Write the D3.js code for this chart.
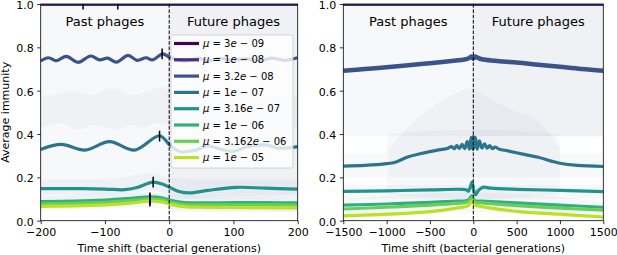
<!DOCTYPE html>
<html><head><meta charset="utf-8">
<script src="https://cdn.jsdelivr.net/npm/d3@7"></script>
<style>body{margin:0;background:#fff}svg{display:block;font-family:"DejaVu Sans",sans-serif}</style>
</head><body><svg id="c" width="617" height="255"></svg>
<script>
// ---------- DATA ----------
const muLabels = ["3e-09","1e-08","3.2e-08","1e-07","3.16e-07","1e-06","3.162e-06","1e-05"];
const leftTicks = [-200,-100,0,100,200];
const rightTicks = [-1500,-1000,-500,0,500,1000,1500];
const yTicks = [0,0.2,0.4,0.6,0.8,1.0];

// left panel series [time shift, immunity]
const L_3e09 = [[-200,0.999],[200,0.999]];
const L_1e08 = [[-200,0.998],[200,0.998]];
const L_32e08 = [[-200,0.737],[-188,0.752],[-176,0.738],[-160,0.758],[-142,0.731],[-122,0.76],[-108,0.742],[-96,0.75],[-82,0.732],[-64,0.763],[-50,0.74],[-36,0.752],[-26,0.742],[-10,0.77],[0,0.755],[10,0.745],[25,0.735],[45,0.75],[60,0.738],[80,0.748],[100,0.74],[120,0.748],[140,0.738],[160,0.75],[180,0.74],[200,0.752]];
const L_1e07 = [[-200,0.329],[-168,0.352],[-131,0.326],[-93,0.365],[-54,0.326],[-15,0.392],[1,0.349],[17,0.318],[40,0.325],[60,0.345],[80,0.33],[100,0.32],[120,0.34],[150,0.35],[170,0.335],[200,0.342]];
const L_316e07 = [[-200,0.148],[-150,0.148],[-100,0.146],[-70,0.143],[-50,0.153],[-25,0.178],[-10,0.168],[0,0.155],[15,0.135],[32,0.128],[60,0.14],[105,0.154],[150,0.15],[200,0.146]];
const L_1e06 = [[-200,0.088],[-150,0.09],[-100,0.095],[-60,0.103],[-30,0.11],[-10,0.105],[0,0.095],[20,0.085],[50,0.082],[100,0.083],[150,0.083],[200,0.082]];
const L_3162e06 = [[-200,0.078],[-150,0.08],[-100,0.085],[-60,0.093],[-30,0.1],[-10,0.096],[0,0.087],[20,0.076],[50,0.073],[100,0.073],[150,0.073],[200,0.072]];
const L_1e05 = [[-200,0.066],[-150,0.068],[-100,0.073],[-60,0.081],[-30,0.09],[-10,0.086],[0,0.078],[20,0.066],[50,0.062],[100,0.061],[150,0.06],[200,0.059]];
// peak markers (left panel) per series: time, immunity
const peakT = [-134,-80,-11,-15,-25,-30,-30,-30];
const peakV = [1.0,1.0,0.77,0.39,0.178,0.105,0.097,0.09];

// right panel series
const R_3e09 = [[-1500,0.999],[1500,0.999]];
const R_1e08 = [[-1500,0.998],[1500,0.998]];
const R_32e08 = [[-1500,0.692],[-1250,0.7],[-1000,0.708],[-750,0.717],[-500,0.727],[-250,0.737],[-100,0.744],[-50,0.75],[-20,0.758],[0,0.748],[20,0.758],[50,0.752],[100,0.745],[250,0.738],[500,0.73],[750,0.72],[1000,0.71],[1250,0.7],[1500,0.692]];
const R_1e07 = [[-1500,0.252],[-1250,0.255],[-1000,0.263],[-900,0.27],[-750,0.295],[-600,0.31],[-400,0.327],[-300,0.333],[-250,0.342],[-220,0.332],[-190,0.346],[-160,0.334],[-130,0.352],[-100,0.333],[-70,0.365],[-45,0.33],[-25,0.385],[-8,0.33],[0,0.39],[10,0.335],[25,0.385],[45,0.33],[70,0.368],[100,0.335],[130,0.355],[160,0.335],[190,0.347],[220,0.332],[250,0.34],[300,0.33],[400,0.322],[600,0.305],[750,0.293],[900,0.275],[1000,0.265],[1200,0.255],[1500,0.25]];
const R_316e07 = [[-1500,0.135],[-1000,0.138],[-500,0.142],[-150,0.145],[-80,0.143],[-55,0.136],[-15,0.178],[0,0.15],[25,0.12],[60,0.14],[110,0.154],[200,0.15],[500,0.145],[1000,0.14],[1500,0.134]];
const R_1e06 = [[-1500,0.072],[-1000,0.077],[-500,0.085],[-200,0.09],[-60,0.095],[-15,0.115],[0,0.1],[20,0.092],[100,0.09],[500,0.082],[1000,0.072],[1500,0.062]];
const R_3162e06 = [[-1500,0.054],[-1000,0.062],[-500,0.072],[-200,0.08],[-60,0.087],[-15,0.105],[0,0.092],[20,0.085],[100,0.082],[500,0.07],[1000,0.058],[1500,0.049]];
const R_1e05 = [[-1500,0.022],[-1000,0.03],[-500,0.042],[-200,0.058],[-60,0.07],[-15,0.09],[0,0.082],[20,0.072],[100,0.065],[500,0.043],[1000,0.03],[1500,0.017]];

// spread bands [time, low, high]
const LB_32e08 = [[-200,0.43,1.05],[-170,0.45,1.05],[-140,0.42,1.05],[-120,0.44,1.05],[-100,0.43,1.05],[-80,0.42,1.05],[-60,0.44,1.05],[-40,0.43,1.05],[-20,0.45,1.05],[0,0.44,1.05],[50,0.43,1.05],[100,0.44,1.05],[150,0.42,1.05],[200,0.43,1.05]];
const LB_1e07 = [[-200,0.1,0.57],[-180,0.1,0.58],[-150,0.1,0.6],[-120,0.1,0.58],[-90,0.1,0.61],[-60,0.1,0.58],[-30,0.1,0.6],[-10,0.1,0.62],[0,0.1,0.6],[50,0.1,0.58],[100,0.1,0.6],[150,0.1,0.58],[200,0.1,0.57]];
const LB_316e07 = [[-200,0.12,0.19],[-100,0.12,0.19],[-25,0.14,0.22],[0,0.12,0.2],[50,0.11,0.19],[200,0.12,0.19]];
const LB_green = [[-200,0.045,0.11],[-30,0.06,0.13],[0,0.055,0.12],[200,0.04,0.1]];
const LB_future = [[0,0.04,1.05],[200,0.04,1.05]];

const RB_32e08 = [[-1500,0.39,1.05],[1500,0.39,1.05]];
const RB_future = [[0,0.39,1.05],[1500,0.39,1.05]];
const RB_1e07 = [[-1500,0.2,0.31],[-1010,0.2,0.31],[-980,0.12,0.4],[0,0.1,0.42],[980,0.12,0.4],[1010,0.2,0.31],[1500,0.2,0.31]];
const RB_1e07b = [[-980,0.2,0.33],[-650,0.2,0.47],[-380,0.2,0.55],[0,0.2,0.61],[40,0.2,0.6],[460,0.2,0.51],[730,0.2,0.465],[1000,0.2,0.34]];
const RB_316e07 = [[-1500,0.1,0.165],[1500,0.1,0.165]];
const RB_green = [[-1500,0.0,0.1],[0,0.04,0.13],[1500,0.0,0.09]];

// ---------- DRAW ----------
const svg = d3.select("#c");
const colors = muLabels.map((d,i)=>d3.interpolateViridis(i*0.9/7));
const y = d3.scaleLinear().domain([0,1]).range([220.7,4]);

function panel(id, x0, x1, dom, ticks, series, bands, peaks, showYLabel, legend){
  const x = d3.scaleLinear().domain(dom).range([x0,x1]);
  const g = svg.append("g");
  g.append("clipPath").attr("id",id).append("rect").attr("x",x0).attr("y",4).attr("width",x1-x0).attr("height",216.7);
  const pg = g.append("g").attr("clip-path",`url(#${id})`);
  const area = d3.area().x(d=>x(d[0])).y0(d=>y(d[1])).y1(d=>y(d[2])).curve(d3.curveMonotoneX);
  bands.forEach(b=>pg.append("path").attr("d",area(b)).attr("fill","rgb(110,125,165)").attr("fill-opacity",0.055));
  const line = d3.line().x(d=>x(d[0])).y(d=>y(d[1])).curve(d3.curveCatmullRom.alpha(0.5));
  series.forEach((s,i)=>pg.append("path").attr("d",line(s.data)).attr("fill","none")
     .attr("stroke",colors[i]).attr("stroke-width",s.w||3.2));
  if(peaks){
    peaks.t.forEach((t,i)=>pg.append("line").attr("x1",x(t)).attr("x2",x(t))
      .attr("y1",y(peaks.v[i]-0.025)).attr("y2",y(peaks.v[i]+0.025)).attr("stroke","#000").attr("stroke-width",1.5));
  }
  pg.append("line").attr("x1",x(0)).attr("x2",x(0)).attr("y1",4).attr("y2",220.7)
    .attr("stroke","#000").attr("stroke-width",1).attr("stroke-dasharray","3.7,1.6");
  g.append("text").attr("x",(x0+x(0))/2).attr("y",26).attr("text-anchor","middle").attr("font-size",13).text("Past phages");
  g.append("text").attr("x",(x(0)+x1)/2).attr("y",26).attr("text-anchor","middle").attr("font-size",13).text("Future phages");
  // axes
  const xa = g.append("g").attr("transform","translate(0,220.7)")
    .call(d3.axisBottom(x).tickValues(ticks).tickSize(3.5).tickPadding(4.5).tickFormat(d=>d<0?"\u2212"+(-d):d));
  const ya = g.append("g").attr("transform",`translate(${x0},0)`)
    .call(d3.axisLeft(y).tickValues(yTicks).tickSize(3.5).tickPadding(3.5).tickFormat(d3.format(".1f")));
  [xa,ya].forEach(a=>{a.select(".domain").remove();a.selectAll("text").attr("font-size",11).attr("font-family","DejaVu Sans").attr("fill","#000");
    a.selectAll("line").attr("stroke","#000").attr("stroke-width",0.8);});
  ya.selectAll("text").attr("dy","0.4em");
  g.append("rect").attr("x",x0).attr("y",4).attr("width",x1-x0).attr("height",216.7).attr("fill","none").attr("stroke","#000").attr("stroke-width",0.8);
  g.append("text").attr("x",(x0+x1)/2).attr("y",252).attr("text-anchor","middle").attr("font-size",11).text("Time shift (bacterial generations)");
  if(showYLabel){
    g.append("text").attr("transform",`translate(9,${(4+220.7)/2}) rotate(-90)`).attr("text-anchor","middle").attr("font-size",11).text("Average immunity");
  }
  if(legend){
    const lg = g.append("g");
    lg.append("rect").attr("x",171).attr("y",35).attr("width",122).attr("height",133).attr("rx",2)
      .attr("fill","#fff").attr("fill-opacity",0.8).attr("stroke","#ccc").attr("stroke-width",0.8);
    muLabels.forEach((m,i)=>{
      const yy = 43.5 + i*16.3;
      lg.append("line").attr("x1",174).attr("x2",199).attr("y1",yy).attr("y2",yy).attr("stroke",colors[i]).attr("stroke-width",3.2);
      const parts = m.split("e-");
      const t = lg.append("text").attr("x",203).attr("y",yy+3.6).attr("font-size",10);
      t.append("tspan").attr("font-style","italic").text("\u03bc");
      t.append("tspan").text(" = "+parts[0]);
      t.append("tspan").attr("font-style","italic").text("e");
      t.append("tspan").text(" \u2212 "+parts[1]);
    });
  }
}

panel("clipL",40.7,297.7,[-200,200],leftTicks,
  [L_3e09,L_1e08,L_32e08,L_1e07,L_316e07,L_1e06,L_3162e06,L_1e05].map(d=>({data:d})),
  [LB_future,LB_32e08,LB_1e07,LB_316e07,LB_green],{t:peakT,v:peakV},true,true);
panel("clipR",343.3,603.3,[-1500,1500],rightTicks,
  [R_3e09,R_1e08,R_32e08,R_1e07,R_316e07,R_1e06,R_3162e06,R_1e05].map((d,i)=>({data:d,w:i===2?4.5:3.2})),
  [RB_future,RB_32e08,RB_1e07,RB_1e07b,RB_316e07,RB_green],null,false,false);
</script></body></html>
